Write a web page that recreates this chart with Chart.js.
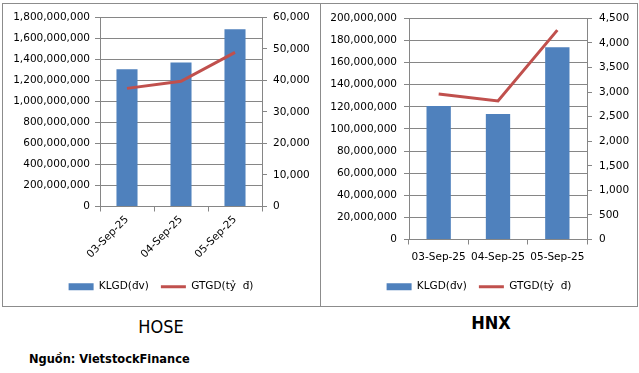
<!DOCTYPE html>
<html>
<head>
<meta charset="utf-8">
<script src="https://cdn.jsdelivr.net/npm/chart.js@4.4.1/dist/chart.umd.min.js"></script>
<style>
    body { margin: 0; background: #ffffff; width: 639px; height: 373px; position: relative; overflow: hidden; }
    .box { position: absolute; border: 1px solid #8c8c8c; box-sizing: border-box; }
    .box canvas { position: absolute; }
    .title { position: absolute; font-family: 'Liberation Sans Narrow', 'DejaVu Sans Condensed', sans-serif; font-size: 18px; color: #000; }
    .source { position: absolute; left: 29px; top: 351px; font-family: 'DejaVu Sans Condensed', sans-serif; font-weight: bold; font-size: 12.7px; color: #000; }
</style>
</head>
<body>
<div class="box" style="left:2px; top:3px; width:319px; height:304px;">
    <canvas id="hoseChart" width="314" height="299" style="left:1px; top:1px;"></canvas>
</div>
<div class="box" style="left:320px; top:3px; width:318px; height:304px;">
    <canvas id="hnxChart" width="312" height="299" style="left:2px; top:1px;"></canvas>
</div>
<div class="title" style="left:116px; top:316px; width:90px; text-align:center;">HOSE</div>
<div class="title" style="left:446px; top:312px; width:90px; text-align:center; font-weight:bold;">HNX</div>
<div class="source">Nguồn: VietstockFinance</div>

<script>
// Données
const dates = ['03-Sep-25', '04-Sep-25', '05-Sep-25'];
const hoseKlgd = [1305000000, 1371000000, 1686000000]; // KLGD(đv) HOSE
const hoseGtgd = [37460, 39700, 48890];                // GTGD(tỷ đ) HOSE
const hnxKlgd = [120700000, 113500000, 173900000];     // KLGD(đv) HNX
const hnxGtgd = [2960, 2820, 4260];                    // GTGD(tỷ đ) HNX

const gridColor = '#868686';
Chart.defaults.font.family = 'DejaVu Sans';
Chart.defaults.font.size = 10.5;
Chart.defaults.color = '#000000';

const fmt = (v) => v.toLocaleString('en-US');

// Fonction pour créer un graphique combiné barres + ligne
function createChart(id, klgd, gtgd, s) {
    const config = {
        type: 'bar',
        data: {
            labels: dates,
            datasets: [{
                label: 'KLGD(đv)',
                data: klgd,
                backgroundColor: '#4F81BD',
                borderWidth: 0,
                yAxisID: 'y',
                order: 2,
                categoryPercentage: 1,
                barPercentage: s.barPct
            },
            {
                type: 'line',
                label: 'GTGD(tỷ  đ)',
                data: gtgd,
                borderColor: '#C0504D',
                backgroundColor: '#C0504D',
                borderWidth: 3,
                pointRadius: 0,
                tension: 0,
                yAxisID: 'y1',
                order: 1
            }]
        },
        options: {
            responsive: false,
            animation: false,
            layout: { padding: { top: s.padTop, bottom: 2, left: 0, right: 0 } },
            scales: {
                x: {
                    grid: { offset: true, drawOnChartArea: false, color: gridColor, tickLength: 5 },
                    border: { color: gridColor },
                    ticks: { autoSkip: false, minRotation: s.rot, maxRotation: s.rot, padding: s.xPad },
                    afterFit: (scale) => { scale.height = s.xHeight; }
                },
                y: {
                    position: 'left',
                    min: 0,
                    max: s.yMax,
                    ticks: { stepSize: s.yStep, callback: fmt, padding: s.yPad },
                    grid: { color: gridColor, tickLength: 5 },
                    border: { color: gridColor },
                    afterFit: (scale) => { scale.width = s.yWidth; }
                },
                y1: {
                    position: 'right',
                    min: 0,
                    max: s.y1Max,
                    ticks: { stepSize: s.y1Step, callback: fmt, padding: s.y1Pad },
                    grid: { drawOnChartArea: false, color: gridColor, tickLength: 5 },
                    border: { color: gridColor },
                    afterFit: (scale) => { scale.width = s.y1Width; }
                }
            },
            plugins: {
                legend: {
                    position: 'bottom',
                    labels: {
                        usePointStyle: true,
                        pointStyleWidth: 25,
                        boxHeight: 7,
                        padding: 12,
                        generateLabels: (chart) => chart.data.datasets.map((ds, i) => ({
                            text: ds.label,
                            fillStyle: ds.backgroundColor,
                            strokeStyle: ds.type === 'line' ? ds.borderColor : ds.backgroundColor,
                            lineWidth: ds.type === 'line' ? 3 : 0,
                            pointStyle: ds.type === 'line' ? 'line' : 'rect',
                            hidden: false,
                            datasetIndex: i
                        }))
                    }
                },
                tooltip: { enabled: false }
            }
        }
    };

    const ctx = document.getElementById(id).getContext('2d');
    return new Chart(ctx, config);
}

createChart('hoseChart', hoseKlgd, hoseGtgd, {
    yMax: 1800000000, yStep: 200000000, y1Max: 60000, y1Step: 10000,
    yWidth: 96, y1Width: 56, yPad: 5, y1Pad: 6,
    xHeight: 63, rot: 45, xPad: 2, padTop: 6, barPct: 0.39
});

createChart('hnxChart', hnxKlgd, hnxGtgd, {
    yMax: 200000000, yStep: 20000000, y1Max: 4500, y1Step: 500,
    yWidth: 86, y1Width: 48, yPad: 7, y1Pad: 7,
    xHeight: 30, rot: 0, xPad: 6, padTop: 6, barPct: 0.41
});
</script>
</body>
</html>
